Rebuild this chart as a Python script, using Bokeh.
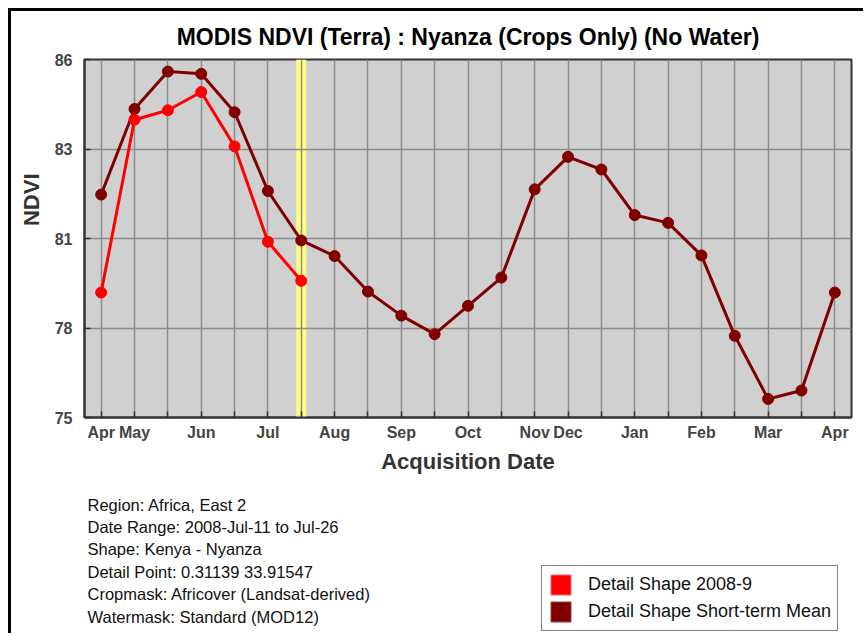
from bokeh.plotting import figure
from bokeh.layouts import column
from bokeh.models import (FixedTicker, Range1d, Label, BoxAnnotation, Legend, LegendItem, Title)
from bokeh.embed import file_html
from bokeh.resources import INLINE

# ---- data ----
periods = list(range(23))
mean_ndvi = [81.85, 84.48, 85.63, 85.56, 84.38, 81.96, 80.44, 79.96, 78.87, 78.13,
             77.56, 78.43, 79.30, 82.01, 83.01, 82.62, 81.22, 80.98, 79.98, 77.51,
             75.57, 75.83, 78.84]
season_periods = [0, 1, 2, 3, 4, 5, 6]
season_ndvi = [78.84, 84.15, 84.44, 85.00, 83.33, 80.40, 79.20]
month_ticks = [0, 1, 3, 5, 7, 9, 11, 13, 14, 16, 18, 20, 22]
month_labels = ["Apr", "May", "Jun", "Jul", "Aug", "Sep", "Oct", "Nov", "Dec",
                "Jan", "Feb", "Mar", "Apr"]
y_ticks = [75, 77.75, 80.5, 83.25, 86]
y_tick_labels = ["75", "78", "81", "83", "86"]
current_period = 6
series_names = ["Detail Shape 2008-9", "Detail Shape Short-term Mean"]
info_lines = ["Region: Africa, East 2",
              "Date Range: 2008-Jul-11 to Jul-26",
              "Shape: Kenya - Nyanza",
              "Detail Point: 0.31139 33.91547",
              "Cropmask: Africover (Landsat-derived)",
              "Watermask: Standard (MOD12)"]
title_text = "MODIS NDVI (Terra) : Nyanza (Crops Only) (No Water)"

FONT = "Liberation Sans"
MEAN_C = "#800000"
SEAS_C = "#ff0000"
W = 852
H1 = 480
H2 = 142
FRAME_LEFT_PAGE = 84      # page x of the plot frame's left edge (both figures share it)

# ---------------- chart ----------------
p = figure(width=W, height=H1, output_backend="svg", toolbar_location=None,
           x_range=Range1d(-0.5, 22.5), y_range=Range1d(75, 86),
           min_border_left=73, min_border_top=47, min_border_right=12,
           min_border_bottom=H1 - 47 - 359)

p.title.text = title_text
p.title.align = "center"
p.title.text_font = FONT
p.title.text_font_style = "bold"
p.title.text_font_size = "23px"
p.title.text_color = "black"
p.title.standoff = 20

p.background_fill_color = "#d0d0d0"
p.border_fill_color = "white"
p.outline_line_color = "#333333"
p.outline_line_width = 2

p.xaxis.ticker = FixedTicker(ticks=periods)
overrides = {i: "" for i in periods}
for t, l in zip(month_ticks, month_labels):
    overrides[t] = l
p.xaxis.major_label_overrides = overrides
p.yaxis.ticker = FixedTicker(ticks=y_ticks)
p.yaxis.major_label_overrides = {t: l for t, l in zip(y_ticks, y_tick_labels)}

for ax in (p.xaxis[0], p.yaxis[0]):
    ax.axis_line_color = "#333333"
    ax.axis_line_width = 2
    ax.major_tick_in = 6
    ax.major_tick_out = 0
    ax.major_tick_line_color = "#333333"
    ax.major_tick_line_width = 1.5
    ax.minor_tick_line_color = None
    ax.major_label_text_font = FONT
    ax.major_label_text_font_style = "bold"
    ax.major_label_text_font_size = "16px"
    ax.major_label_text_color = "#444444"
p.xaxis.major_label_standoff = 6
p.yaxis.major_label_standoff = 12

p.xaxis.axis_label = "Acquisition Date"
p.xaxis.axis_label_standoff = 5
p.xaxis.axis_label_text_font = FONT
p.xaxis.axis_label_text_font_style = "bold"
p.xaxis.axis_label_text_font_size = "22px"
p.xaxis.axis_label_text_color = "#333333"

p.add_layout(Title(text="NDVI", align="right", offset=114, standoff=13,
                   vertical_align="middle",
                   text_font=FONT, text_font_style="bold", text_font_size="22px",
                   text_color="#333333"), "left")

p.xgrid.ticker = FixedTicker(ticks=periods)
p.ygrid.ticker = FixedTicker(ticks=y_ticks)
for g in (p.xgrid[0], p.ygrid[0]):
    g.grid_line_color = "#8c8c8c"
    g.grid_line_width = 1.5
    g.grid_line_alpha = 1

p.add_layout(BoxAnnotation(left=current_period - 0.15, right=current_period + 0.15,
                           fill_color="#ffff80", fill_alpha=1, line_alpha=0,
                           level="image"))

p.line(periods, mean_ndvi, line_color=MEAN_C, line_width=3)
p.scatter(periods, mean_ndvi, size=11, fill_color=MEAN_C, line_color=MEAN_C)
p.line(season_periods, season_ndvi, line_color=SEAS_C, line_width=3)
p.scatter(season_periods, season_ndvi, size=11, fill_color=SEAS_C, line_color=SEAS_C)

# ---------------- info + legend panel ----------------
p2 = figure(width=W, height=H2, output_backend="svg", toolbar_location=None,
            x_range=Range1d(0, 1), y_range=Range1d(0, 1),
            x_axis_type=None, y_axis_type=None, min_border=0)
p2.outline_line_color = None
p2.background_fill_color = "white"
p2.border_fill_color = "white"

p2_bottom = 11 + H1 + H2   # page y of p2's bottom edge
for i, line in enumerate(info_lines):
    y_page = 504 + 22.4 * i
    p2.add_layout(Label(x=87 - FRAME_LEFT_PAGE, y=p2_bottom - y_page,
                        x_units="screen", y_units="screen",
                        text=line, text_align="left", text_baseline="middle",
                        text_font=FONT, text_font_size="16.5px", text_color="#111111"))

nan = float("nan")
r1 = p2.quad(left=[nan], right=[nan], top=[nan], bottom=[nan],
             fill_color=SEAS_C, line_color="#ff6060", line_width=1)
r2 = p2.quad(left=[nan], right=[nan], top=[nan], bottom=[nan],
             fill_color=MEAN_C, line_color="#904040", line_width=1)
legend = Legend(items=[LegendItem(label=series_names[0], renderers=[r1]),
                       LegendItem(label=series_names[1], renderers=[r2])],
                location=(541 - FRAME_LEFT_PAGE, p2_bottom - 631),
                glyph_width=25, glyph_height=25,
                label_standoff=15, spacing=2, padding=6, margin=0,
                border_line_color="black", border_line_width=1.5,
                background_fill_color="white", background_fill_alpha=1,
                label_text_font=FONT, label_text_font_size="18px",
                label_text_color="#111111", label_height=20)
p2.add_layout(legend)

layout = column(p, p2, spacing=0,
                styles={"border-top": "3px solid black", "border-left": "3px solid black",
                        "margin-left": "8px", "margin-top": "8px"})

open("out.html", "w").write(file_html(layout, INLINE))
